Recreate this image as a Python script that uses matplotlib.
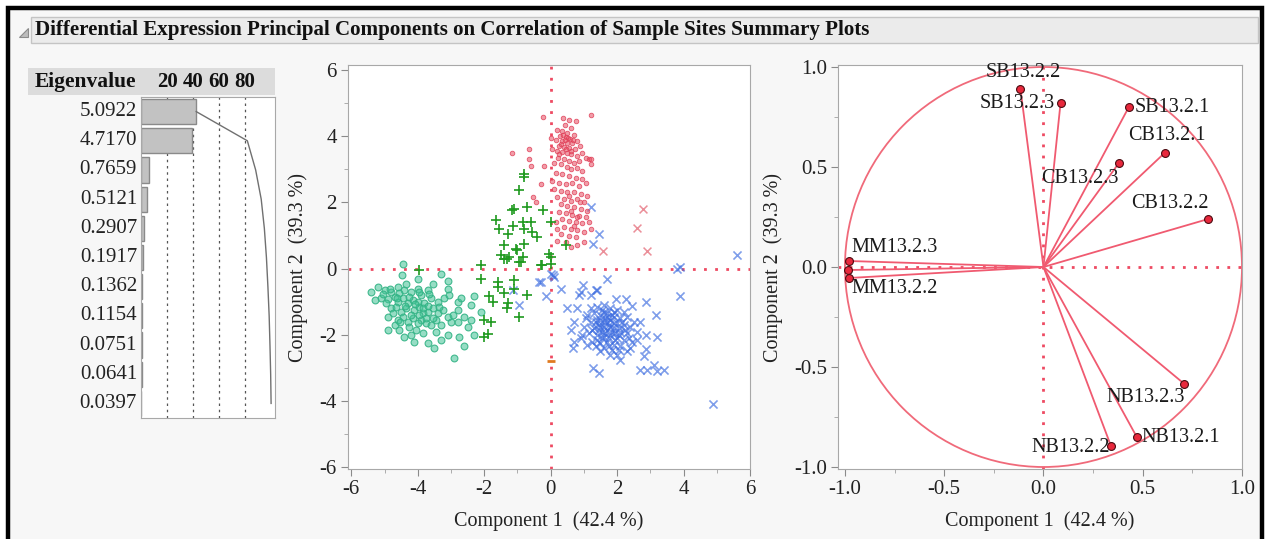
import matplotlib
matplotlib.use("Agg")
import matplotlib.pyplot as plt
from matplotlib.patches import Rectangle, Polygon, Circle
from matplotlib.ticker import MultipleLocator, FormatStrFormatter
import numpy as np

plt.rcParams['font.family'] = ['Liberation Serif', 'DejaVu Serif']
plt.rcParams['axes.unicode_minus'] = False

W, H = 1266, 539

# ---------------- data ----------------
title = "Differential Expression Principal Components on Correlation of Sample Sites Summary Plots"
eigenvalues = [5.0922, 4.7170, 0.7659, 0.5121, 0.2907, 0.1917, 0.1362, 0.1154, 0.0751, 0.0641, 0.0397]
eigen_labels = ["5.0922", "4.7170", "0.7659", "0.5121", "0.2907", "0.1917", "0.1362", "0.1154", "0.0751", "0.0641", "0.0397"]
pct_ticks = [20, 40, 60, 80]

red_dots = [(0.20,4.20),(0.35,4.15),(0.50,4.10),(0.60,4.25),(0.42,4.35),(0.28,4.00),(0.45,3.98),(0.58,3.92),
            (0.70,4.05),(0.15,3.90),(0.33,3.85),(0.50,3.80),(0.65,3.78),(0.80,3.85),(0.25,3.70),(0.40,3.68),
            (0.55,3.65),(0.72,3.62),(0.88,3.70),(0.18,3.55),(0.35,3.52),(0.48,3.48),(0.62,3.45),(0.78,3.40),
            (0.95,3.50),(0.22,3.35),(0.40,3.30),(0.55,3.25),(0.70,3.20),(0.85,3.25),(1.05,3.35),(0.30,3.15),
            (0.48,3.08),(0.62,3.00),(0.80,3.05),(0.95,2.95),(1.15,3.30),(1.20,3.15),(0.10,3.20),(0.05,3.60),
            (0.00,3.95),(0.75,4.45),(0.38,4.55),(1.20,4.65),(-0.24,4.58),(0.55,4.50),
            (0.38,4.05),(0.52,3.95),(0.30,3.75),(0.45,3.60),(0.60,3.55),(0.42,3.88),(0.68,3.90),(0.25,3.45),
            (0.15,2.90),(0.35,2.85),(0.55,2.80),(0.75,2.75),(0.95,2.70),(0.05,2.65),(0.25,2.60),(0.45,2.55),
            (0.65,2.58),(0.85,2.50),(1.05,2.60),(0.10,2.40),(0.30,2.35),(0.50,2.30),(0.70,2.32),(0.90,2.25),
            (1.10,2.20),(0.20,2.15),(0.40,2.10),(0.60,2.05),(0.80,2.10),(1.00,2.00),(-0.20,3.10),(-0.30,2.55),
            (-0.54,2.17),(-0.45,2.00),(-0.66,3.60),(-0.66,3.30),(-0.60,3.10),(-1.15,3.50),(1.20,3.30),
            (0.30,1.95),(0.50,1.90),(0.70,1.85),(0.90,1.80),(1.10,1.75),(0.25,1.70),(0.45,1.68),(0.65,1.62),
            (0.85,1.60),(1.05,1.55),(0.35,1.50),(0.55,1.45),(0.75,1.42),(0.95,1.38),(1.15,1.40),(0.40,1.25),
            (0.60,1.20),(0.80,1.18),(1.00,1.10),(1.20,1.20),(0.30,1.05),(0.55,1.00),(0.75,0.95),(0.20,0.85),
            (0.45,0.80),(0.80,0.72),(1.00,0.80),(0.60,0.65),(0.15,1.40),(0.20,1.20),
            (0.62,1.75),(0.80,1.55),(0.70,1.30),(0.88,2.00),(0.55,2.20)]

red_x = [(2.77,1.80),(2.60,1.24),(1.57,0.54),(2.90,0.54)]

green_plus = [(-0.80,2.86),(-0.80,2.77),(-0.96,2.38),(-1.10,1.80),(-1.15,1.78),(-0.70,1.87),(-1.65,1.47),
              (-1.57,1.20),(-1.27,1.05),(-0.80,1.20),(-0.60,1.40),(-0.84,1.40),(-1.14,1.30),(-0.40,0.96),
              (-0.55,1.10),(-0.24,1.78),(-1.40,0.72),(-1.05,0.60),(-0.80,0.75),(-1.50,0.42),(-1.30,0.30),
              (-1.26,0.36),(-0.96,0.20),(-0.84,0.36),(-2.10,0.12),(-0.30,0.12),(-0.06,0.45),(0.00,1.40),
              (0.45,0.72),(0.00,0.35),(0.00,0.15),(-0.25,0.12),(-3.97,-0.03),(-2.10,-0.30),(-1.60,-0.54),
              (-1.40,-0.75),(-1.10,-0.60),(-1.87,-0.84),(-1.75,-1.00),(-1.27,-1.05),(-1.30,-1.20),(-0.70,-0.80),
              (-0.96,-1.45),(-2.00,-1.54),(-1.80,-1.62),(-1.90,-1.96),(-2.00,-2.05),(-1.60,-0.40),(-1.10,-0.33),
              (-0.90,0.20),(-1.00,0.57),(-1.40,0.30)]

teal_circles = [(-4.43,0.15),(-4.46,-0.18),(-3.30,-0.15),(-3.10,-0.36),(-3.10,-0.60),(-5.40,-0.70),(-5.20,-0.54),
                (-5.00,-0.63),(-4.80,-0.70),(-4.60,-0.55),(-4.40,-0.65),(-4.20,-0.70),(-4.00,-0.60),(-3.70,-0.63),
                (-3.90,-0.80),(-5.10,-0.90),(-4.90,-0.93),(-4.70,-0.85),(-4.60,-1.00),(-4.45,-0.90),(-4.30,-1.05),
                (-4.15,-0.95),(-4.00,-1.00),(-3.80,-1.05),(-3.60,-0.90),(-3.40,-1.00),(-3.20,-0.90),(-2.80,-1.00),
                (-2.30,-0.84),(-4.80,-1.20),(-4.65,-1.15),(-4.50,-1.30),(-4.35,-1.20),(-4.10,-1.24),(-3.95,-1.15),
                (-3.85,-1.35),(-3.70,-1.30),(-3.55,-1.20),(-3.40,-1.35),(-3.25,-1.25),(-3.10,-1.45),(-2.80,-1.24),
                (-2.60,-1.45),(-4.90,-1.45),(-4.75,-1.35),(-4.60,-1.55),(-4.45,-1.45),(-4.30,-1.60),(-4.15,-1.50),
                (-3.90,-1.55),(-3.75,-1.65),(-3.60,-1.70),(-3.45,-1.55),(-3.30,-1.70),(-3.00,-1.60),(-2.80,-1.60),
                (-2.50,-1.75),(-4.90,-1.85),(-4.40,-2.05),(-4.20,-2.00),(-4.05,-1.85),(-3.85,-1.95),(-3.70,-2.25),
                (-3.45,-1.90),(-3.10,-2.00),(-2.60,-2.35),(-2.30,-2.00),(-3.50,-2.40),(-2.90,-2.70),(-5.05,-0.78),
                (-4.85,-0.60),(-4.55,-0.75),(-4.25,-0.85),(-3.95,-0.70),(-3.65,-0.78),(-3.85,-1.20),(-4.70,-1.70),
                (-4.55,-1.85),(-4.25,-1.75),(-4.00,-1.65),(-3.95,-1.40),(-4.20,-1.40),(-3.75,-1.48),(-3.55,-1.50),
                (-3.35,-1.15),(-2.95,-1.40),(-2.70,-0.90),(-3.05,-0.80),(-2.40,-1.10),(-2.10,-1.30),(-2.40,-1.55),
                (-4.10,-2.20),(-3.30,-2.15),(-5.30,-0.95),(-4.95,-1.05),(-4.35,-0.45),(-3.55,-0.45),(-4.00,-0.30),
                (-2.75,-2.05),(-4.62,-0.88),(-4.38,-1.12),(-4.08,-1.08),(-4.52,-1.62),(-3.68,-1.12)]

blue_x = [(5.60,0.42),(3.80,0.00),(3.90,0.06),(1.70,-0.30),(3.90,-0.84),(2.86,-1.02),(3.16,-1.40),(3.20,-2.05),
          (4.90,-4.10),(1.27,-3.00),(1.45,-3.15),(2.70,-3.05),(2.90,-3.05),(3.10,-2.90),(3.20,-3.10),(3.40,-3.05),
          (0.06,-0.20),(0.10,-0.25),(0.02,-0.15),(-0.36,-0.40),(-0.15,-0.84),(0.30,-0.60),(0.96,-0.48),(1.40,-0.63),
          (0.85,-0.80),(1.20,-0.80),(0.50,-1.20),(0.80,-1.20),(1.96,-0.93),(2.26,-0.93),(2.46,-1.14),(0.70,-1.60),
          (0.60,-1.84),(0.90,-2.10),(0.66,-2.40),(0.70,-2.20),(1.10,-2.30),(2.70,-1.60),(2.86,-2.00),(2.60,-2.14),
          (2.40,-2.40),(2.86,-2.44),(2.80,-2.65),(2.10,-2.75),(1.80,-2.60),(1.50,-2.50),(1.20,1.87),(1.45,1.06),
          (1.27,0.75),(-1.14,-0.63),(-0.96,-1.10),(-0.30,-0.40),(0.90,-0.70),(1.35,-0.63),
          (1.20,-1.20),(1.40,-1.15),(1.60,-1.10),(1.80,-1.20),(2.00,-1.25),(2.20,-1.30),(1.10,-1.40),(1.30,-1.35),
          (1.50,-1.40),(1.70,-1.35),(1.90,-1.45),(2.10,-1.50),(2.30,-1.45),(1.20,-1.60),(1.40,-1.55),(1.60,-1.60),
          (1.80,-1.55),(2.00,-1.65),(2.20,-1.70),(2.40,-1.75),(1.00,-1.75),(1.30,-1.80),(1.50,-1.75),(1.70,-1.85),
          (1.90,-1.80),(2.10,-1.90),(2.30,-1.95),(1.15,-1.95),(1.40,-2.00),(1.60,-2.05),(1.80,-2.00),(2.00,-2.10),
          (2.20,-2.15),(2.45,-2.20),(1.25,-2.20),(1.50,-2.25),(1.70,-2.20),(1.90,-2.30),(2.10,-2.35),(2.30,-2.50),
          (1.60,-2.40),(1.85,-2.45),(2.00,-2.60),(1.55,-1.90),(1.75,-1.70),(1.95,-1.95),(1.65,-1.50),(1.45,-1.70),
          (1.85,-1.40),(2.05,-1.80),(1.35,-2.35),(2.50,-1.60),(2.60,-1.90),(1.05,-1.50),(0.95,-2.00),
          (1.50,-1.55),(1.60,-1.75),(1.70,-1.60),(1.80,-1.75),(1.90,-1.65),(1.65,-1.95),(1.75,-2.10),(1.85,-1.90),
          (1.55,-2.10),(1.45,-1.85),(1.95,-2.15),(2.05,-2.00),(1.70,-1.45),(1.35,-1.60),(1.25,-1.85),(2.15,-1.60),
          (2.25,-1.85),(1.60,-1.30),(1.90,-1.30),(2.05,-2.45),(1.40,-2.15),(1.75,-2.35),(2.35,-2.10),(1.55,-1.25)]

orange_dash = [(0.0, -2.8)]

loading_names = ["SB13.2.2", "SB13.2.3", "SB13.2.1", "CB13.2.1", "CB13.2.3", "CB13.2.2",
                 "MM13.2.3", "MM13.2.1", "MM13.2.2", "NB13.2.3", "NB13.2.1", "NB13.2.2"]
loading_x = [-0.116, 0.086, 0.43, 0.61, 0.38, 0.83, -0.98, -0.985, -0.98, 0.71, 0.47, 0.34]
loading_y = [0.89, 0.82, 0.80, 0.57, 0.52, 0.24, 0.03, -0.015, -0.055, -0.585, -0.85, -0.895]
loading_shown = [True, True, True, True, True, True, True, False, True, True, True, True]

comp1_label = "Component 1  (42.4 %)"
comp2_label = "Component 2  (39.3 %)"

# ---------------- helpers ----------------
def rect(l, t, r, b):
    return [l / W, 1 - b / H, (r - l) / W, (b - t) / H]

fig = plt.figure(figsize=(W / 100, H / 100), dpi=100, facecolor="white")

bg = fig.add_axes([0, 0, 1, 1], zorder=-10)
bg.set_xlim(0, W); bg.set_ylim(H, 0); bg.axis("off")
bg.add_patch(Rectangle((8, 8), 1254, 560, facecolor="#f7f7f7", edgecolor="black", lw=3.2))
bg.add_patch(Rectangle((31, 17), 1227, 26, facecolor="#ebebeb", edgecolor="#c4c4c4", lw=1))
bg.add_patch(Polygon([(19, 37), (28, 37), (28, 28)], closed=True, facecolor="#bdbdbd", edgecolor="#8c8c8c", lw=0.8))
bg.text(35, 30.5, title, fontsize=15.1, fontweight="bold", ha="left", va="center", color="#111111")

# eigen header
bg.add_patch(Rectangle((28, 68), 247, 27, facecolor="#dcdcdc", edgecolor="none"))
bg.text(85, 82, "Eigenvalue", fontsize=15.5, fontweight="bold", ha="center", va="center", color="#111111")

RED = "#ee4a62"
DOT = (0, (1, 3))

# ---------------- eigen bar chart ----------------
axe = fig.add_axes(rect(141, 97, 275, 418))
n = len(eigenvalues)
total = sum(eigenvalues)
pct = [v / total * 100 for v in eigenvalues]
cum = np.cumsum(pct)
rows = np.arange(n) + 0.5
axe.barh(rows, pct, height=0.86, color="#c2c2c2", edgecolor="#8a8a8a", lw=1)
axe.plot(cum, rows, color="#707070", lw=1)
for p in pct_ticks:
    axe.axvline(p, color="#555555", lw=0.9, ls=(0, (2, 3)), zorder=0)
    bg.text(141 + p * 1.3, 82, str(p), fontsize=15, fontweight="bold", ha="center", va="center", color="#111111")
axe.set_xlim(0, 103)
axe.set_ylim(n, 0)
axe.set_xticks([]); axe.set_yticks([])
for s in axe.spines.values():
    s.set_color("#a8a8a8")
for r, lab in zip(rows, eigen_labels):
    axe.text(-3, r, lab, fontsize=15, ha="right", va="center", clip_on=False, color="#222222")

# ---------------- score plot ----------------
def style_axes(ax):
    ax.set_facecolor("white")
    for s in ax.spines.values():
        s.set_color("#a8a8a8")
    ax.tick_params(which="major", direction="out", length=5, color="#8a8a8a", labelsize=15, pad=3, labelcolor="#222222")
    ax.tick_params(which="minor", direction="out", length=3, color="#a0a0a0")
    ax.tick_params(top=False, right=False)

axs = fig.add_axes(rect(348, 65, 750, 469))
style_axes(axs)
axs.set_xlim(-6.1, 6.0)
axs.set_ylim(-6.05, 6.15)
axs.xaxis.set_major_locator(MultipleLocator(2)); axs.xaxis.set_minor_locator(MultipleLocator(1))
axs.yaxis.set_major_locator(MultipleLocator(2)); axs.yaxis.set_minor_locator(MultipleLocator(1))
axs.axhline(0, color=RED, lw=2, ls=DOT, zorder=1)
axs.axvline(0, color=RED, lw=2, ls=DOT, zorder=1)

tx, ty = zip(*teal_circles)
axs.scatter(tx, ty, s=24, marker="o", facecolor=(0.25, 0.76, 0.58, 0.55), edgecolor=(0.2, 0.7, 0.52, 0.9), lw=0.8, zorder=2)
bx, by = zip(*blue_x)
axs.scatter(bx, by, s=34, marker="x", color=(0.23, 0.42, 0.88, 0.65), lw=1.2, zorder=2)
rx, ry = zip(*red_dots)
axs.scatter(rx, ry, s=11, marker="o", facecolor=(0.9, 0.3, 0.38, 0.55), edgecolor=(0.88, 0.25, 0.35, 0.85), lw=0.6, zorder=3)
gx, gy = zip(*green_plus)
axs.scatter(gx, gy, s=60, marker="+", color="#1f9a1f", lw=1.2, zorder=4)
rxx, rxy = zip(*red_x)
axs.scatter(rxx, rxy, s=32, marker="x", color=(0.9, 0.45, 0.5, 0.8), lw=1.1, zorder=3)
ox, oy = zip(*orange_dash)
axs.scatter(ox, oy, s=30, marker="_", color="#e07a20", lw=2, zorder=4)

axs.set_xlabel(comp1_label, fontsize=14.5, labelpad=9, color="#222222")
axs.set_ylabel(comp2_label, fontsize=14.5, labelpad=8, color="#222222")

# ---------------- loading plot ----------------
axl = fig.add_axes(rect(838, 65, 1242, 469))
style_axes(axl)
axl.set_xlim(-1.035, 1.0)
axl.set_ylim(-1.01, 1.01)
axl.xaxis.set_major_locator(MultipleLocator(0.5)); axl.xaxis.set_minor_locator(MultipleLocator(0.25))
axl.yaxis.set_major_locator(MultipleLocator(0.5)); axl.yaxis.set_minor_locator(MultipleLocator(0.25))
axl.xaxis.set_major_formatter(FormatStrFormatter("%.1f"))
axl.yaxis.set_major_formatter(FormatStrFormatter("%.1f"))
axl.axhline(0, color=RED, lw=2, ls=DOT, zorder=1)
axl.axvline(0, color=RED, lw=2, ls=DOT, zorder=1)
axl.add_patch(Circle((0, 0), 1.0, fill=False, edgecolor="#f06a7a", lw=1.3, zorder=2))
for lx, ly in zip(loading_x, loading_y):
    axl.plot([0, lx], [0, ly], color="#f05a70", lw=1.3, zorder=3)
axl.scatter(loading_x, loading_y, s=32, facecolor="#e8283c", edgecolor="#4a0a10", lw=0.8, zorder=4)

offsets = {
    "SB13.2.2": (2, 5, "center", "bottom"),
    "SB13.2.3": (-4, 0, "right", "center"),
    "SB13.2.1": (4, 0, "left", "center"),
    "CB13.2.1": (2, 6, "center", "bottom"),
    "CB13.2.3": (0, -4, "right", "top"),
    "CB13.2.2": (0, 4, "right", "bottom"),
    "MM13.2.3": (2, 3, "left", "bottom"),
    "MM13.2.2": (2, -1, "left", "top"),
    "NB13.2.3": (0, -3, "right", "top"),
    "NB13.2.1": (3, 0, "left", "center"),
    "NB13.2.2": (-1, -1, "right", "center"),
}
for name, lx, ly, shown in zip(loading_names, loading_x, loading_y, loading_shown):
    if not shown:
        continue
    dx, dy, ha, va = offsets[name]
    axl.annotate(name, (lx, ly), xytext=(dx, dy), textcoords="offset points",
                 fontsize=14.5, ha=ha, va=va, color="#1a1a1a", zorder=5)

axl.set_xlabel(comp1_label, fontsize=14.5, labelpad=9, color="#222222")
axl.set_ylabel(comp2_label, fontsize=14.5, labelpad=8, color="#222222")

fig.savefig("out.png", dpi=100, facecolor="white")
